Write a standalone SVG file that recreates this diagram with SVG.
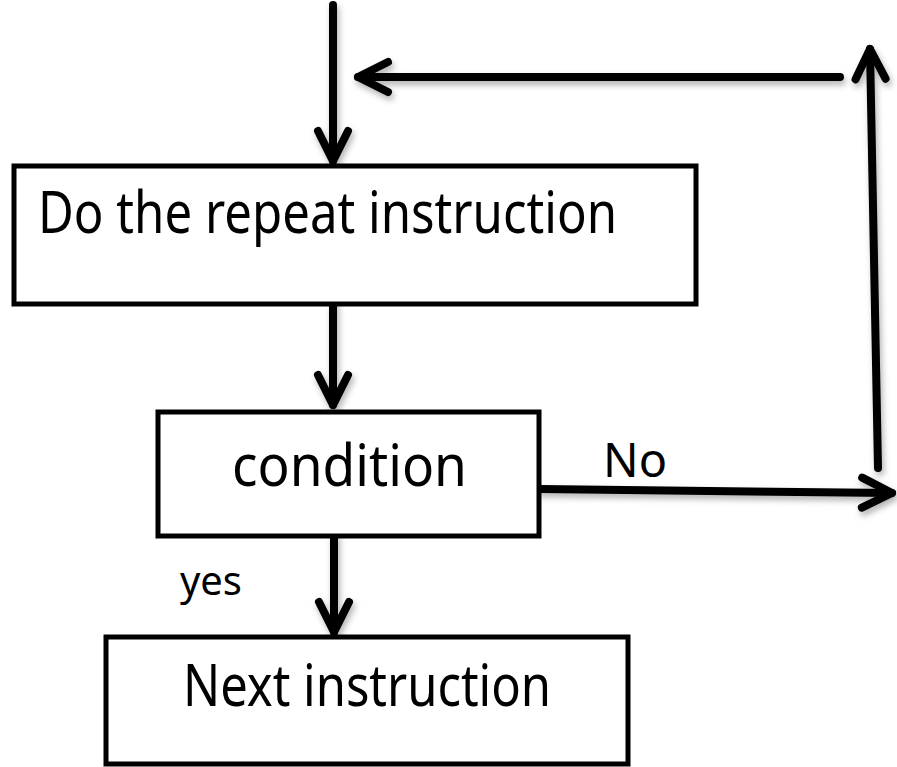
<svg xmlns="http://www.w3.org/2000/svg" width="897" height="767" viewBox="0 0 897 767">
<style>
.box{fill:#fff;stroke:#000;stroke-width:5}
.conn{fill:none;stroke:#000;stroke-width:8;stroke-linecap:round;stroke-linejoin:round}
.lbl{font-family:"Noto Sans","Open Sans","Liberation Sans",sans-serif;fill:#000}
</style>
<defs>
<filter id="sh" x="-20%" y="-20%" width="140%" height="140%">
<feDropShadow dx="2" dy="4" stdDeviation="3" flood-color="#000" flood-opacity="0.3"/>
</filter>
<marker id="ah" markerUnits="userSpaceOnUse" viewBox="-40 -24 48 48" markerWidth="48" markerHeight="48" refX="0" refY="0" orient="auto">
<path d="M-30,-15 L0,0 L-30,15" fill="none" stroke="#000" stroke-width="8" stroke-linecap="round" stroke-linejoin="round"/>
</marker>
</defs>
<g id="connectors" filter="url(#sh)">
<line class="conn" x1="333" y1="5" x2="333" y2="161" marker-end="url(#ah)"/>
<line class="conn" x1="840" y1="77" x2="358" y2="77" marker-end="url(#ah)"/>
<line class="conn" x1="878" y1="468" x2="870" y2="49" marker-end="url(#ah)"/>
<line class="conn" x1="540" y1="489" x2="892" y2="493" marker-end="url(#ah)"/>
<line class="conn" x1="333" y1="304" x2="333" y2="405" marker-end="url(#ah)"/>
<line class="conn" x1="334" y1="536" x2="334" y2="632" marker-end="url(#ah)"/>
</g>
<g id="node-repeat">
<rect class="box" x="14" y="166" width="682" height="138"/>
<text class="lbl" x="38" y="233" font-size="58" textLength="579" lengthAdjust="spacingAndGlyphs">Do the repeat instruction</text>
</g>
<g id="node-condition">
<rect class="box" x="158" y="412" width="381" height="124"/>
<text class="lbl" x="232" y="486" font-size="58" textLength="235" lengthAdjust="spacingAndGlyphs">condition</text>
</g>
<g id="node-next">
<rect class="box" x="106" y="637" width="522" height="127"/>
<text class="lbl" x="183" y="706" font-size="58" textLength="368" lengthAdjust="spacingAndGlyphs">Next instruction</text>
</g>
<g id="labels">
<text class="lbl" x="603" y="477" font-size="48" textLength="64" lengthAdjust="spacingAndGlyphs">No</text>
<text class="lbl" x="180" y="595" font-size="40" textLength="62" lengthAdjust="spacingAndGlyphs">yes</text>
</g>
</svg>
